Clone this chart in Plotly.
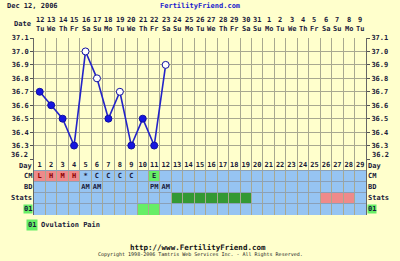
import plotly.graph_objects as go

# ---------------- data ----------------
days = list(range(1, 30))
dates = [12, 13, 14, 15, 16, 17, 18, 19, 20, 21, 22, 23, 24, 25, 26, 27, 28, 29, 30, 31,
         1, 2, 3, 4, 5, 6, 7, 8, 9]
weekdays = (["Tu", "We", "Th", "Fr", "Sa", "Su", "Mo"] * 5)[:29]
temp_days = [1, 2, 3, 4, 5, 6, 7, 8, 9, 10, 11, 12]
temps = [36.7, 36.6, 36.5, 36.3, 37.0, 36.8, 36.5, 36.7, 36.3, 36.5, 36.3, 36.9]
open_days = [5, 6, 8, 12]
temp_ticks = [36.2, 36.3, 36.4, 36.5, 36.6, 36.7, 36.8, 36.9, 37.0, 37.1]

cm_text = {1: "L", 2: "H", 3: "M", 4: "H", 5: "*", 6: "C", 7: "C", 8: "C", 9: "C", 11: "E"}
cm_color = {1: "pink", 2: "pink", 3: "pink", 4: "pink", 11: "lgreen"}
bd_text = {5: "AM", 6: "AM", 11: "PM", 12: "AM"}
stats_color = {13: "dgreen", 14: "dgreen", 15: "dgreen", 16: "dgreen", 17: "dgreen",
               18: "dgreen", 19: "dgreen", 26: "pink", 27: "pink", 28: "pink"}
o1_color = {10: "lgreen", 11: "lgreen"}
row_labels = ["Day", "CM", "BD", "Stats", "01"]

# ---------------- styles ----------------
BG = "#FFFFCC"
BLUE = "#96C4F2"
PALETTE = {"pink": "#EE8A8A", "lgreen": "#66EE66", "dgreen": "#339933"}
GRID = "#A8A890"
TXT = "#1A1A3A"
FONT = "DejaVu Sans Mono"
FS = 7
W, H = 400, 261
L, R, T, B = 30, 370, 38, 215


def pxx(x):
    return (x - L) / (R - L)


def pxy(y):
    return (B - y) / (B - T)


split = pxy(159)


def f(size=FS, color=TXT, bold=True):
    d = dict(family=FONT, size=size, color=color)
    if bold:
        d["weight"] = "bold"
    return d


fig = go.Figure()

fig.add_trace(go.Scatter(
    x=temp_days, y=temps, mode="lines+markers",
    line=dict(color="#2323C8", width=1.6),
    marker=dict(size=7,
                color=["white" if d in open_days else "#1515E0" for d in temp_days],
                line=dict(color="#1010A0", width=1)),
    xaxis="x", yaxis="y", hoverinfo="skip", showlegend=False))
fig.add_trace(go.Scatter(x=[1], y=[36.5], xaxis="x", yaxis="y3", mode="markers",
                         marker=dict(opacity=0), hoverinfo="skip", showlegend=False))
fig.add_trace(go.Scatter(x=[1], y=[0.5], xaxis="x", yaxis="y2", mode="markers",
                         marker=dict(opacity=0), hoverinfo="skip", showlegend=False))

shapes = []
annotations = []
for d in days:
    for r in range(4):
        c = BLUE
        if r == 3 and d in cm_color:
            c = PALETTE[cm_color[d]]
        if r == 1 and d in stats_color:
            c = PALETTE[stats_color[d]]
        if r == 0 and d in o1_color:
            c = PALETTE[o1_color[d]]
        shapes.append(dict(type="rect", xref="x", yref="y2", x0=d - 0.5, x1=d + 0.5,
                           y0=r, y1=r + 1, fillcolor=c, line=dict(width=0), layer="below"))

fig.add_trace(go.Scatter(
    x=days, y=[4.4] * len(days), text=[str(d) for d in days], mode="text",
    textfont=f(), xaxis="x", yaxis="y2", hoverinfo="skip", showlegend=False))
cm_days = list(cm_text.keys())
fig.add_trace(go.Scatter(
    x=cm_days, y=[3.5] * len(cm_days), text=[cm_text[d] for d in cm_days], mode="text",
    textfont=dict(family=FONT, size=FS, weight="bold",
                  color=["#8B0000" if cm_color.get(d) == "pink" else TXT for d in cm_days]),
    xaxis="x", yaxis="y2", hoverinfo="skip", showlegend=False))
bd_days = list(bd_text.keys())
fig.add_trace(go.Scatter(
    x=bd_days, y=[2.5] * len(bd_days), text=[bd_text[d] for d in bd_days], mode="text",
    textfont=f(), xaxis="x", yaxis="y2", hoverinfo="skip", showlegend=False))

for i, lab in enumerate(row_labels):
    yv = 4.5 - i if i else 4.35
    bg = PALETTE["lgreen"] if lab == "01" else None
    annotations.append(dict(text=lab, xref="paper", yref="y2", x=0, y=yv, xanchor="right",
                            yanchor="middle", xshift=-1, showarrow=False, bgcolor=bg,
                            borderpad=0, font=f()))
    annotations.append(dict(text=lab, xref="paper", yref="y2", x=1, y=yv, xanchor="left",
                            yanchor="middle", xshift=1, showarrow=False, bgcolor=bg,
                            borderpad=0, font=f()))

# raised bottom temperature labels (36.2) on both sides
for side_x, anchor, shift in [(0, "right", -4), (1, "left", 4)]:
    annotations.append(dict(text=f"{temp_ticks[0]:.1f}", xref="paper", yref="y",
                            x=side_x, y=temp_ticks[0], xanchor=anchor, yanchor="middle",
                            xshift=shift, yshift=4, showarrow=False, font=f()))

for d, dt, wd in zip(days, dates, weekdays):
    annotations.append(dict(text=str(dt), xref="x", yref="paper", x=d, y=pxy(20),
                            xanchor="center", yanchor="middle", showarrow=False, font=f()))
    annotations.append(dict(text=wd, xref="x", yref="paper", x=d, y=pxy(29),
                            xanchor="center", yanchor="middle", showarrow=False, font=f()))
annotations.append(dict(text="Date", xref="paper", yref="paper", x=pxx(29), y=pxy(24),
                        xanchor="right", yanchor="middle", showarrow=False, font=f()))
annotations.append(dict(text="Dec 12, 2006", xref="paper", yref="paper", x=pxx(0), y=pxy(6),
                        xanchor="left", yanchor="middle", showarrow=False, font=f()))
annotations.append(dict(text="FertilityFriend.com", xref="paper", yref="paper", x=pxx(200),
                        y=pxy(6), xanchor="center", yanchor="middle", showarrow=False,
                        font=f(color="#1A1ACC")))
annotations.append(dict(text="01", xref="paper", yref="paper", x=pxx(22), y=pxy(225),
                        xanchor="left", yanchor="middle", showarrow=False,
                        bgcolor=PALETTE["lgreen"], borderpad=1, font=f()))
annotations.append(dict(text="Ovulation Pain", xref="paper", yref="paper", x=pxx(35),
                        y=pxy(225), xanchor="left", yanchor="middle", showarrow=False, font=f()))
annotations.append(dict(text="http://www.FertilityFriend.com", xref="paper", yref="paper",
                        x=pxx(198), y=pxy(247), xanchor="center", yanchor="middle",
                        showarrow=False, font=f(size=7.5, color="#111")))
annotations.append(dict(text="Copyright 1998-2006 Tamtris Web Services Inc. - All Rights Reserved.",
                        xref="paper", yref="paper", x=pxx(200), y=pxy(255), xanchor="center",
                        yanchor="middle", showarrow=False, font=f(size=5, color="#222", bold=False)))

yaxis_common = dict(range=[36.2, 37.1], tickvals=temp_ticks,
                    ticktext=[""] + [f"{v:.1f}" for v in temp_ticks[1:]],
                    showgrid=True, gridcolor=GRID, gridwidth=1, zeroline=False,
                    ticks="outside", ticklen=3, tickcolor="#555",
                    tickfont=f(),
                    showline=True, linecolor="#666", linewidth=1)

fig.update_layout(
    width=W, height=H,
    margin=dict(l=L, r=W - R, t=T, b=H - B),
    paper_bgcolor=BG, plot_bgcolor=BG,
    showlegend=False,
    xaxis=dict(range=[0.5, 29.5], tickvals=[d + 0.5 for d in range(0, 30)],
               showticklabels=False, showgrid=True, gridcolor=GRID, gridwidth=1,
               zeroline=False, ticks="", anchor="y2", showline=False),
    yaxis=dict(domain=[split, 1], anchor="x", side="left", **yaxis_common),
    yaxis3=dict(overlaying="y", side="right", anchor="x", **yaxis_common),
    yaxis2=dict(domain=[0, split], range=[0, 5], anchor="x", tickvals=[1, 2, 3, 4],
                showticklabels=False, showgrid=True, gridcolor="#8AA0B8", zeroline=False,
                showline=True, linecolor="#666", mirror=True),
    shapes=shapes,
    annotations=annotations,
)

fig.write_html("out.html")
